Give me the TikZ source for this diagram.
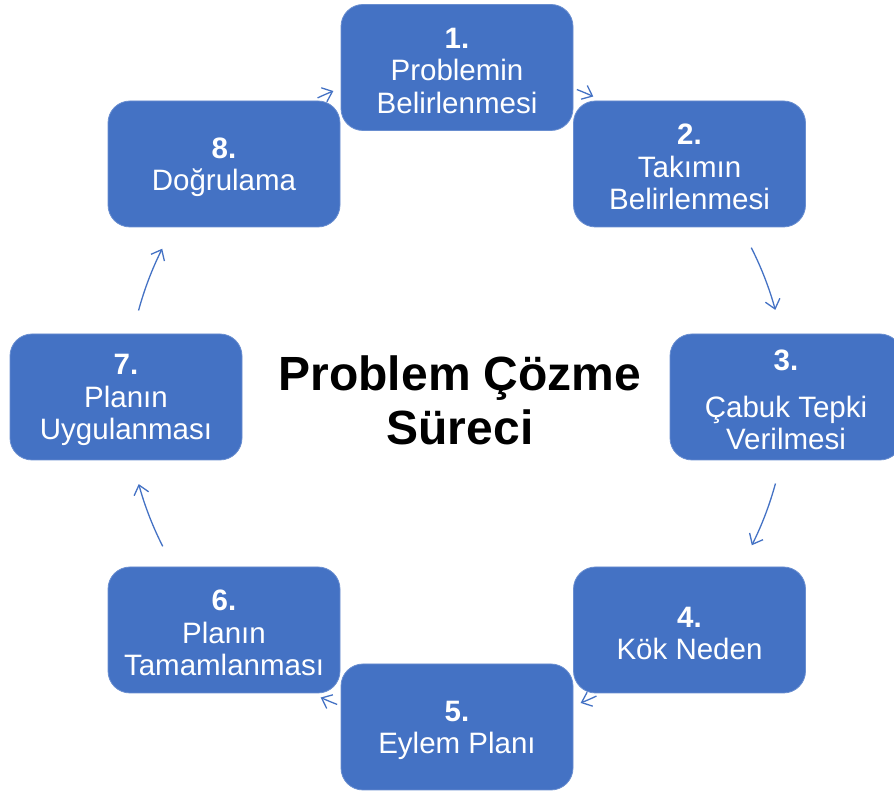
\documentclass[tikz,border=0pt]{standalone}
\usepackage{fontspec}
\setmainfont{Liberation Sans}
\usetikzlibrary{arrows.meta,calc}
\definecolor{stepblue}{HTML}{4472C4}
% first line of a step label, with a little extra head room
\newcommand{\stepnum}[1]{\rule{0pt}{27pt}\textbf{#1}}
\begin{document}
\begin{tikzpicture}[x=1pt,y=1pt,
  stepbox/.style={fill=stepblue, draw=stepblue!80!white, line width=0.8pt,
    rounded corners=22pt, minimum width=232pt, minimum height=126pt,
    text=white, align=center, inner sep=0pt,
    font=\fontsize{29.5}{32.5}\selectfont},
  conn/.style={draw=stepblue, line width=1.3pt,
    -{Straight Barb[length=9pt,width=15pt,line width=1.3pt]}},
  title/.style={align=center, font=\fontsize{48}{54}\selectfont\bfseries}]
\useasboundingbox (0,0) rectangle (894,792);
\clip (0,0) rectangle (894,792);
\coordinate (c) at (457,395);

% the eight steps around the cycle
\node[stepbox] (s1) at (457,724.5) {\stepnum{1.}\\Problemin\\Belirlenmesi};
\node[stepbox] (s2) at (689.5,628) {\stepnum{2.}\\Takımın\\Belirlenmesi};
\node[stepbox] (s3) at (786,395) {\stepnum{3.}\\[14pt]Çabuk Tepki\\Verilmesi};
\node[stepbox] (s4) at (689.5,162) {\stepnum{4.}\\Kök Neden};
\node[stepbox] (s5) at (457,65) {\stepnum{5.}\\Eylem Planı};
\node[stepbox] (s6) at (224,162) {\stepnum{6.}\\Planın\\Tamamlanması};
\node[stepbox] (s7) at (126,395) {\stepnum{7.}\\Planın\\Uygulanması};
\node[stepbox] (s8) at (224,628) {\stepnum{8.}\\Doğrulama};

\node[title] (t) at (460,392) {Problem Çözme\\Süreci};

% clockwise arcs between neighbouring steps
\draw[conn] ($(c)+(115:330)$) arc[start angle=115, end angle=112, radius=330];
\draw[conn] ($(c)+(68.7:330)$) arc[start angle=68.7, end angle=65.6, radius=330];
\draw[conn] ($(c)+(26.9:330)$) arc[start angle=26.9, end angle=15.3, radius=330];
\draw[conn] ($(c)+(-15.2:330)$) arc[start angle=-15.2, end angle=-26.7, radius=330];
\draw[conn] ($(c)+(-65:330)$) arc[start angle=-65, end angle=-68, radius=330];
\draw[conn] ($(c)+(-111.3:330)$) arc[start angle=-111.3, end angle=-114.4, radius=330];
\draw[conn] ($(c)+(-153.1:330)$) arc[start angle=-153.1, end angle=-164.7, radius=330];
\draw[conn] ($(c)+(164.8:330)$) arc[start angle=164.8, end angle=153.3, radius=330];
\end{tikzpicture}
\end{document}
